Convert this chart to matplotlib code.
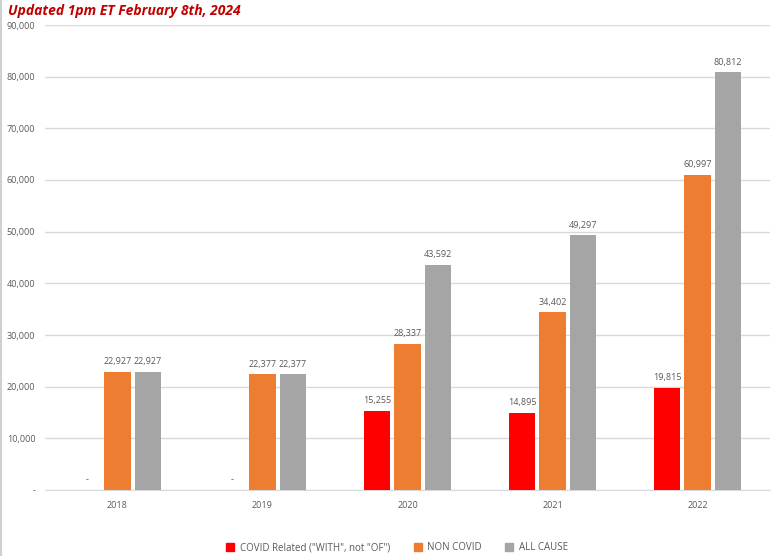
import matplotlib
matplotlib.use("Agg")
import matplotlib.pyplot as plt
from matplotlib.lines import Line2D
import numpy as np

years = ["2018", "2019", "2020", "2021", "2022"]
covid = [0, 0, 15255, 14895, 19815]
non_covid = [22927, 22377, 28337, 34402, 60997]
all_cause = [22927, 22377, 43592, 49297, 80812]
series_names = ['COVID Related ("WITH", not "OF")', "NON COVID", "ALL CAUSE"]
colors = ["#ff0000", "#ed7d31", "#a5a5a5"]
yticks = list(range(0, 90001, 10000))

plt.rcParams['font.family'] = ['Open Sans', 'DejaVu Sans']

fig = plt.figure(figsize=(7.81, 5.56), dpi=100)
ax = fig.add_axes([45/781, 66/556, 725/781, 465/556])

x = np.arange(len(years))
w = 0.185
off = 0.21
label_color = "#595959"
for i, (vals, c, name) in enumerate(zip([covid, non_covid, all_cause], colors, series_names)):
    pos = x + (i - 1) * off
    ax.bar(pos, vals, width=w, color=c, label=name, zorder=3)
    for p, v in zip(pos, vals):
        txt = "-" if v == 0 else f"{v:,}"
        ax.text(p, v + 1100, txt, ha="center", va="bottom", fontsize=6.5, color=label_color, zorder=4)

ax.set_xlim(-0.5, len(years) - 0.5)
ax.set_ylim(0, 90000)
ax.set_yticks(yticks)
ax.set_yticklabels(["-" if t == 0 else f"{t:,}" for t in yticks])
ax.set_xticks(x)
ax.set_xticklabels(years)
ax.tick_params(axis="both", length=0, labelsize=6.5, colors=label_color)
ax.tick_params(axis="x", pad=8)
ax.tick_params(axis="y", pad=7)
ax.grid(axis="y", color="#d9d9d9", linewidth=1, zorder=0)
for s in ["top", "right", "left"]:
    ax.spines[s].set_visible(False)
ax.spines["bottom"].set_color("#d9d9d9")

handles = [Line2D([0], [0], marker="s", linestyle="none", markersize=6, markerfacecolor=c, markeredgecolor=c) for c in colors]
fig.legend(handles, series_names, loc="center", bbox_to_anchor=(0.505, 1 - 548/556), ncol=3,
           frameon=False, fontsize=7, labelcolor=label_color, handletextpad=0.0, columnspacing=1.8)

fig.text(8/781, 1 - 11/556, "Updated 1pm ET February 8th, 2024", color="#c00000", fontsize=10,
         fontweight="bold", fontstyle="italic", ha="left", va="center")

fig.add_artist(Line2D([1/781, 1/781], [0, 1], color="#d0d0d0", linewidth=1.5, transform=fig.transFigure))

fig.savefig("out.png", dpi=100)
